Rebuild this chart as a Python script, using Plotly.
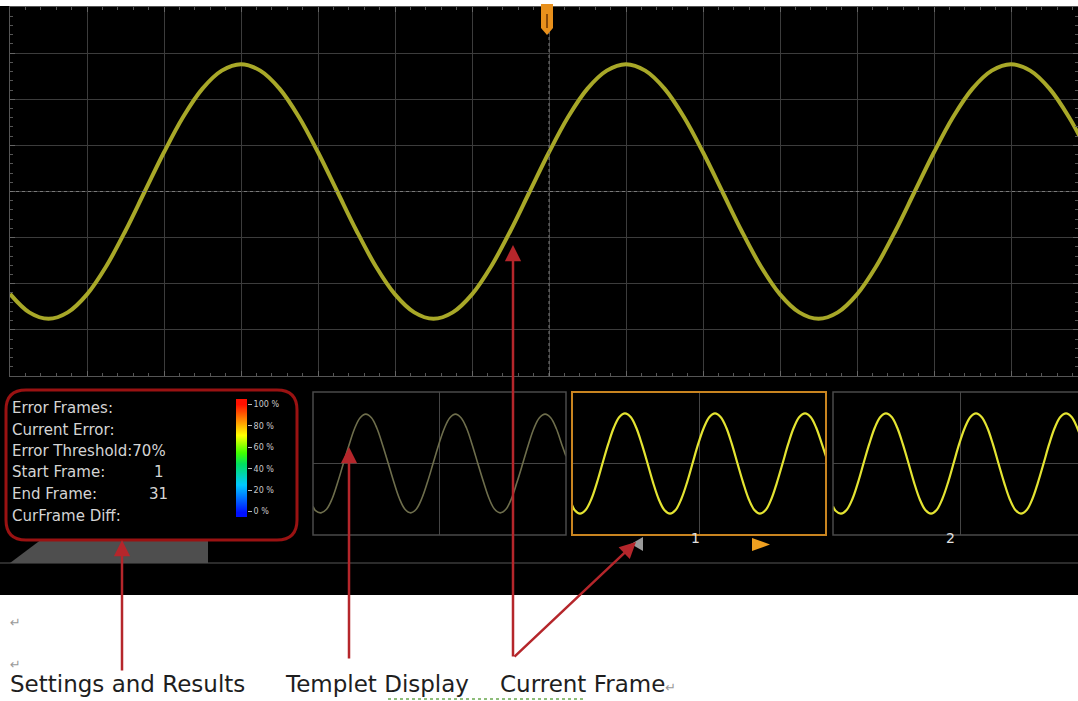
import plotly.graph_objects as go

W, H = 1078, 701


def X(x):
    return x / W


def Y(y):
    return 1 - y / H


# main screen trace, x in divisions (77 px/div), y in divisions (46 px/div)
main_x = [0, 0.25, 0.5, 0.75, 1.0, 1.25, 1.5, 1.75, 2.0, 2.25, 2.5, 2.75, 3.0, 3.25, 3.5, 3.75,
          4.0, 4.25, 4.5, 4.75, 5.0, 5.25, 5.5, 5.75, 6.0, 6.25, 6.5, 6.75, 7.0, 7.25, 7.5, 7.75,
          8.0, 8.25, 8.5, 8.75, 9.0, 9.25, 9.5, 9.75, 10.0, 10.25, 10.5, 10.75, 11.0, 11.25, 11.5,
          11.75, 12.0, 12.25, 12.5, 12.75, 13.0, 13.25, 13.5, 13.75, 14.0]
main_y = [-2.22, -2.62, -2.76, -2.62, -2.23, -1.62, -0.85, 0.0, 0.85, 1.62, 2.23, 2.62, 2.76, 2.62, 2.23, 1.62,
          0.85, 0.0, -0.85, -1.62, -2.23, -2.62, -2.76, -2.62, -2.23, -1.62, -0.85, 0.0, 0.85, 1.62, 2.23, 2.62,
          2.76, 2.62, 2.23, 1.62, 0.85, 0.0, -0.85, -1.62, -2.23, -2.62, -2.76, -2.62, -2.23, -1.62, -0.85,
          0.0, 0.85, 1.62, 2.23, 2.62, 2.76, 2.62, 2.23, 1.62, 0.85]

# frame thumbnails (width = 2 units, height = -1..1), read every 1/16 period
thumb_x = [0, 0.020, 0.063, 0.107, 0.152, 0.196, 0.240, 0.285, 0.329, 0.373, 0.417, 0.462,
           0.506, 0.550, 0.595, 0.639, 0.683, 0.727, 0.772, 0.816, 0.860, 0.905, 0.949, 0.993,
           1.038, 1.082, 1.126, 1.170, 1.215, 1.259, 1.303, 1.348, 1.392, 1.436, 1.480, 1.525,
           1.569, 1.613, 1.658, 1.702, 1.746, 1.790, 1.835, 1.879, 1.923, 1.968, 2.0]
tpl_y = [-0.6, -0.66, -0.69, -0.64, -0.49, -0.26, 0, 0.26, 0.49, 0.64, 0.69, 0.64,
         0.49, 0.26, 0, -0.26, -0.49, -0.64, -0.69, -0.64, -0.49, -0.26, 0, 0.26,
         0.49, 0.64, 0.69, 0.64, 0.49, 0.26, 0, -0.26, -0.49, -0.64, -0.69, -0.64,
         -0.49, -0.26, 0, 0.26, 0.49, 0.64, 0.69, 0.64, 0.49, 0.26, 0.1]
cur_y = [-0.58, -0.65, -0.7, -0.65, -0.5, -0.27, 0, 0.27, 0.5, 0.65, 0.7, 0.65,
         0.5, 0.27, 0, -0.27, -0.5, -0.65, -0.7, -0.65, -0.5, -0.27, 0, 0.27,
         0.5, 0.65, 0.7, 0.65, 0.5, 0.27, 0, -0.27, -0.5, -0.65, -0.7, -0.65,
         -0.5, -0.27, 0, 0.27, 0.5, 0.65, 0.7, 0.65, 0.5, 0.27, 0.1]
nxt_y = [-0.6, -0.66, -0.7, -0.65, -0.5, -0.27, 0, 0.27, 0.5, 0.65, 0.7, 0.65,
         0.5, 0.27, 0, -0.27, -0.5, -0.65, -0.7, -0.65, -0.5, -0.27, 0, 0.27,
         0.5, 0.65, 0.7, 0.65, 0.5, 0.27, 0, -0.27, -0.5, -0.65, -0.7, -0.65,
         -0.5, -0.27, 0, 0.27, 0.5, 0.65, 0.7, 0.65, 0.5, 0.27, 0.1]

# error colour scale
cbar_levels = [0, 10, 20, 30, 40, 50, 60, 70, 80, 90, 100]
cbar_ticks = [0, 20, 40, 60, 80, 100]
cbar_text = ["0 %", "20 %", "40 %", "60 %", "80 %", "100 %"]

settings = ["Error Frames:", "Current Error:", "Error Threshold:70%",
            "Start Frame:", "End Frame:", "CurFrame Diff:"]
settings_vals = ["", "", "", "1", "31", ""]

RED = "#b5262b"
GRID = "#3c3c3c"

fig = go.Figure()
fig.add_trace(go.Scatter(x=main_x, y=main_y, mode="lines", line=dict(color="#a8a828", width=4, shape="spline"),
                         xaxis="x", yaxis="y"))
fig.add_trace(go.Scatter(x=thumb_x, y=tpl_y, mode="lines", line=dict(color="#6e6e4c", width=1.6, shape="spline"),
                         xaxis="x2", yaxis="y2"))
fig.add_trace(go.Scatter(x=thumb_x, y=cur_y, mode="lines", line=dict(color="#e4e432", width=2.2, shape="spline"),
                         xaxis="x3", yaxis="y3"))
fig.add_trace(go.Scatter(x=thumb_x, y=nxt_y, mode="lines", line=dict(color="#e4e432", width=2.2, shape="spline"),
                         xaxis="x4", yaxis="y4"))
fig.add_trace(go.Heatmap(x=[0, 1], y=cbar_levels, z=[[v, v] for v in cbar_levels], zmin=0, zmax=100,
                         zsmooth="best", showscale=False, xaxis="x5", yaxis="y5",
                         colorscale=[[0, "#0010ff"], [0.25, "#00c8ff"], [0.45, "#00e060"], [0.55, "#40ff00"],
                                     [0.72, "#ffff00"], [0.85, "#ff9000"], [1, "#ff1000"]]))

grid_ax = dict(showgrid=True, gridcolor=GRID, zeroline=False, showticklabels=False, showline=True,
               linecolor="#555", mirror="allticks", ticks="inside", ticklen=5, tickcolor="#666",
               minor=dict(ticks="inside", ticklen=3, tickcolor="#555", showgrid=False))
thumb_ax = dict(showgrid=True, gridcolor="#454545", zeroline=False, showticklabels=False, showline=False, dtick=1)

fig.update_layout(
    width=W, height=H, margin=dict(l=0, r=0, t=0, b=0), showlegend=False,
    paper_bgcolor="white", plot_bgcolor="rgba(0,0,0,0)",
    xaxis=dict(grid_ax, domain=[X(10), 1], range=[0, (W - 10) / 77], dtick=1, minor_dtick=0.2),
    yaxis=dict(grid_ax, domain=[Y(376), Y(7)], range=[-4, 4], dtick=1, minor_dtick=0.2),
    xaxis2=dict(thumb_ax, domain=[X(313), X(566)], range=[0, 2], anchor="y2"),
    yaxis2=dict(thumb_ax, domain=[Y(535), Y(392)], range=[-1, 1], anchor="x2"),
    xaxis3=dict(thumb_ax, domain=[X(572), X(826)], range=[0, 2], anchor="y3"),
    yaxis3=dict(thumb_ax, domain=[Y(535), Y(392)], range=[-1, 1], anchor="x3"),
    xaxis4=dict(thumb_ax, domain=[X(833), 1], range=[0, (W - 833) / 127], anchor="y4"),
    yaxis4=dict(thumb_ax, domain=[Y(535), Y(392)], range=[-1, 1], anchor="x4"),
    xaxis5=dict(domain=[X(236), X(247)], range=[-0.5, 1.5], visible=False, anchor="y5"),
    yaxis5=dict(domain=[Y(517), Y(399)], range=[-5, 105], anchor="x5", side="right", showgrid=False,
                zeroline=False, tickvals=cbar_ticks, ticktext=cbar_text, ticks="outside", ticklen=4,
                tickcolor="#bbb", tickfont=dict(family="DejaVu Sans", size=8, color="#c8c8c8"), showline=False),
)


def rounded(x0, y0, x1, y1, r):
    return (f"M {X(x0 + r)},{Y(y0)} L {X(x1 - r)},{Y(y0)} Q {X(x1)},{Y(y0)} {X(x1)},{Y(y0 + r)} "
            f"L {X(x1)},{Y(y1 - r)} Q {X(x1)},{Y(y1)} {X(x1 - r)},{Y(y1)} L {X(x0 + r)},{Y(y1)} "
            f"Q {X(x0)},{Y(y1)} {X(x0)},{Y(y1 - r)} L {X(x0)},{Y(y0 + r)} Q {X(x0)},{Y(y0)} {X(x0 + r)},{Y(y0)} Z")


def poly(pts):
    return "M " + " L ".join(f"{X(a)},{Y(b)}" for a, b in pts) + " Z"


shapes = [
    dict(type="rect", xref="paper", yref="paper", x0=0, x1=1, y0=Y(595), y1=Y(6),
         fillcolor="black", line_width=0, layer="below"),
    # dotted centre cross
    dict(type="line", xref="x", yref="y", x0=7, x1=7, y0=-4, y1=4, line=dict(color="#7a7a7a", width=1, dash="dot")),
    dict(type="line", xref="x", yref="y", x0=0, x1=14, y0=0, y1=0, line=dict(color="#7a7a7a", width=1, dash="dot")),
    # trigger marker
    dict(type="path", xref="paper", yref="paper", path=poly([(541, 4), (553, 4), (553, 28), (547, 35), (541, 28)]),
         fillcolor="#e8901c", line_width=0),
    dict(type="line", xref="paper", yref="paper", x0=X(547), x1=X(547), y0=Y(14), y1=Y(28),
         line=dict(color="#8a4a08", width=2)),
    # thumbnail borders
    dict(type="rect", xref="paper", yref="paper", x0=X(313), x1=X(566), y0=Y(535), y1=Y(392),
         line=dict(color="#4a4a4a", width=1.5)),
    dict(type="rect", xref="paper", yref="paper", x0=X(833), x1=X(1090), y0=Y(535), y1=Y(392),
         line=dict(color="#4a4a4a", width=1.5)),
    dict(type="rect", xref="paper", yref="paper", x0=X(572), x1=X(826), y0=Y(535), y1=Y(392),
         line=dict(color="#c98420", width=2)),
    # frame navigation
    dict(type="path", xref="paper", yref="paper", path=poly([(643, 537), (643, 551), (631, 544)]),
         fillcolor="#9a9a9a", line_width=0),
    dict(type="path", xref="paper", yref="paper", path=poly([(752, 538), (752, 551), (770, 544.5)]),
         fillcolor="#f0a020", line_width=0),
    dict(type="line", xref="paper", yref="paper", x0=0, x1=1, y0=Y(563), y1=Y(563), line=dict(color="#3a3a3a", width=1.5)),
    # grey tab below settings box
    dict(type="path", xref="paper", yref="paper", path=poly([(10, 563), (42, 539), (208, 539), (208, 563)]),
         fillcolor="#4e4e4e", line_width=0),
    # settings box
    dict(type="path", xref="paper", yref="paper", path=rounded(6, 390, 297, 540, 20),
         line=dict(color="#9a1212", width=3)),
    # spell-check squiggle
    dict(type="line", xref="paper", yref="paper", x0=X(388), x1=X(583), y0=Y(699), y1=Y(699),
         line=dict(color="#6aa84f", width=1.5, dash="dot")),
]
fig.update_layout(shapes=shapes)

ann = []
row_y = [408, 429.5, 451, 472.5, 494, 515.5]
val_x = {"1": 152, "31": 147}
for label, val, yy in zip(settings, settings_vals, row_y):
    ann.append(dict(x=X(10), y=Y(yy), xref="paper", yref="paper", text=label, showarrow=False,
                    xanchor="left", yanchor="middle", font=dict(family="DejaVu Sans", size=15, color="#d4d4d4")))
    if val:
        ann.append(dict(x=X(val_x[val]), y=Y(yy), xref="paper", yref="paper", text=val, showarrow=False,
                        xanchor="left", yanchor="middle", font=dict(family="DejaVu Sans", size=15, color="#d4d4d4")))

for txt, xx in [("1", 695), ("2", 957)]:
    ann.append(dict(x=X(xx), y=Y(548), xref="paper", yref="paper", text=txt, showarrow=False,
                    font=dict(family="DejaVu Sans", size=14, color="#e0e0e0")))

# red callout arrows (tip, tail)
arrows = [((122, 540), (122, 672)), ((349, 447), (349, 660)),
          ((513, 245), (513, 658)), ((636, 542), (513, 658))]
for (tx, ty), (sx, sy) in arrows:
    ann.append(dict(x=X(tx), y=Y(ty), xref="paper", yref="paper", ax=sx - tx, ay=sy - ty,
                    axref="pixel", ayref="pixel", text="", showarrow=True, arrowhead=2, arrowsize=1.3,
                    arrowwidth=2.5, arrowcolor=RED, standoff=0))

label_font = dict(family="DejaVu Sans", size=23, color="#1e1e1e")
for txt, xx in [("Settings and Results", 8), ("Templet Display", 283),
                ("Current Frame<span style='font-size:13px;color:#9a9a9a'>↵</span>", 498)]:
    ann.append(dict(x=X(xx), y=Y(684), xref="paper", yref="paper", text=txt, showarrow=False,
                    xanchor="left", yanchor="middle", font=label_font))
for yy in [622, 664]:
    ann.append(dict(x=X(8), y=Y(yy), xref="paper", yref="paper", text="↵", showarrow=False,
                    xanchor="left", yanchor="middle", font=dict(family="DejaVu Sans", size=13, color="#9a9a9a")))

fig.update_layout(annotations=ann)
fig.write_html("out.html", config={"displayModeBar": False},
               post_script="document.body.style.margin='0';document.body.style.overflow='hidden';")
